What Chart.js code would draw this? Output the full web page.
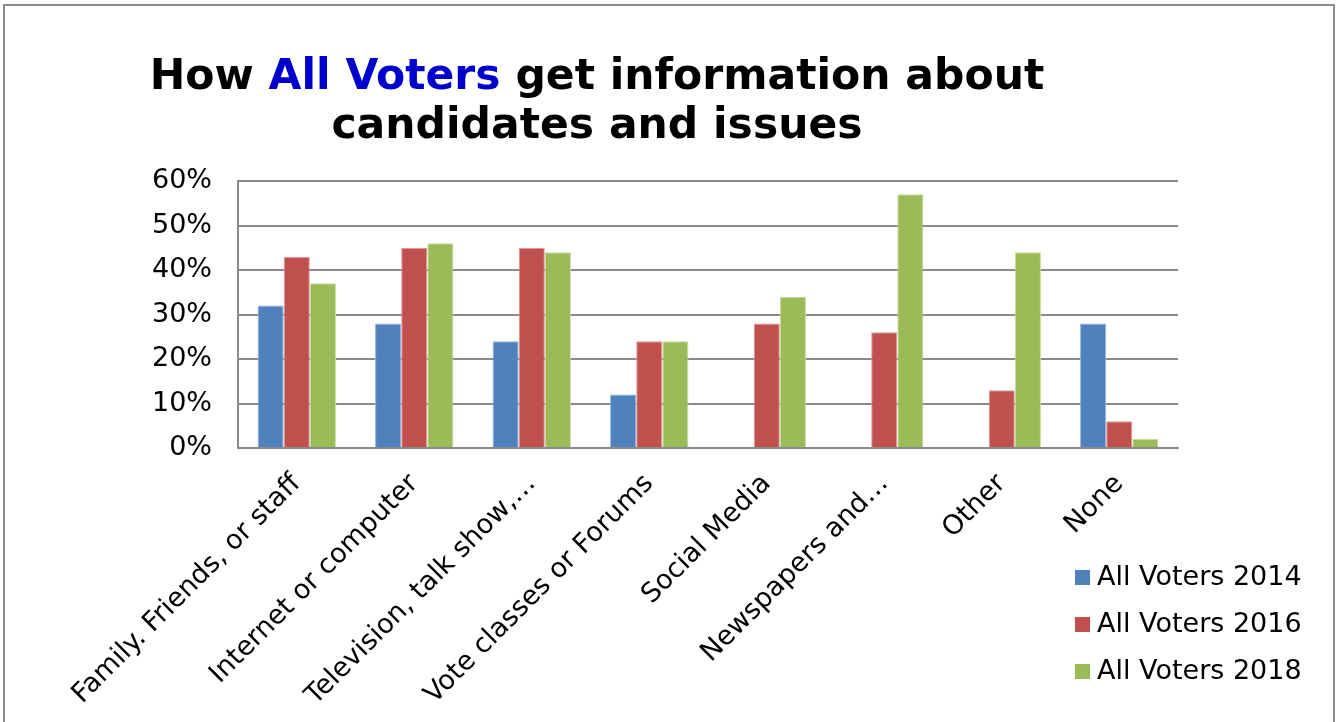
<!DOCTYPE html>
<html>
<head>
<meta charset="utf-8">
<title>How All Voters get information about candidates and issues</title>
<script src="https://cdn.jsdelivr.net/npm/chart.js@4/dist/chart.umd.min.js"></script>
<style>
  html, body { margin: 0; padding: 0; background: #fff; }
  canvas { display: block; }
</style>
</head>
<body>
<canvas id="myChart" width="1343" height="722"></canvas>
<script>
const labels = [
    'Family. Friends, or staff',
    'Internet or computer',
    'Television, talk show,…',
    'Vote classes or Forums',
    'Social Media',
    'Newspapers and…',
    'Other',
    'None',
]

const voters2014 = [32, 28, 24, 12, null, null, null, 28]
const voters2016 = [43, 45, 45, 24, 28, 26, 13, 6]
const voters2018 = [37, 46, 44, 24, 34, 57, 44, 2]

const yTicks = [0, 10, 20, 30, 40, 50, 60]

const FONT = '"DejaVu Sans", Verdana, sans-serif'
const GRID = '#8a8a8a'

// two-line heading, "All Voters" in blue
const titlePlugin = {
    id: 'heading',
    afterDraw(chart) {
        const c = chart.ctx
        const lines = [
            [['How ', '#000'], ['All Voters', '#0000CC'], [' get information about', '#000']],
            [['candidates and issues', '#000']],
        ]
        const baselines = [89, 138]
        const cx = 597
        c.save()
        c.font = 'bold 42.5px ' + FONT
        c.textBaseline = 'alphabetic'
        c.textAlign = 'left'
        lines.forEach((parts, i) => {
            const w = parts.reduce((s, p) => s + c.measureText(p[0]).width, 0)
            let x = cx - w / 2
            parts.forEach(p => {
                c.fillStyle = p[1]
                c.fillText(p[0], x, baselines[i])
                x += c.measureText(p[0]).width
            })
        })
        c.restore()
    }
}

// legend in the lower right corner, below the plot
const legendPlugin = {
    id: 'cornerLegend',
    afterDraw(chart) {
        const c = chart.ctx
        c.save()
        c.font = '27px ' + FONT
        c.textBaseline = 'middle'
        c.textAlign = 'left'
        chart.data.datasets.forEach((ds, i) => {
            const y = 578 + i * 47
            c.fillStyle = ds.backgroundColor
            c.fillRect(1075, y - 8, 15, 15)
            c.fillStyle = '#000'
            c.fillText(ds.label, 1097, y)
        })
        c.restore()
    }
}

// grey frame around the whole figure
const framePlugin = {
    id: 'frame',
    beforeDraw(chart) {
        const c = chart.ctx
        c.save()
        c.strokeStyle = '#8c8c8c'
        c.lineWidth = 2
        c.strokeRect(4, 5, 1330, 760)
        c.restore()
    }
}

const data = {
    labels,
    datasets: [{
        label: 'All Voters 2014',
        data: voters2014,
        backgroundColor: '#4F81BD',
        borderColor: '#8fb0d8',
        borderWidth: 1,
    }, {
        label: 'All Voters 2016',
        data: voters2016,
        backgroundColor: '#C0504D',
        borderColor: '#e09a98',
        borderWidth: 1,
    }, {
        label: 'All Voters 2018',
        data: voters2018,
        backgroundColor: '#9BBB59',
        borderColor: '#c6dc9c',
        borderWidth: 1,
    }]
}

const config = {
    type: 'bar',
    data,
    options: {
        responsive: false,
        animation: false,
        devicePixelRatio: 1,
        categoryPercentage: 0.667,
        barPercentage: 1,
        layout: {
            padding: { top: 181, right: 165, left: 0, bottom: 0 }
        },
        plugins: {
            legend: { display: false },
            title: { display: false },
            tooltip: { enabled: false },
        },
        scales: {
            x: {
                grid: { display: false, drawTicks: false },
                border: { display: true, color: GRID, width: 2 },
                ticks: {
                    color: '#000',
                    font: { family: FONT, size: 27 },
                    minRotation: 45,
                    maxRotation: 45,
                    padding: 20,
                    autoSkip: false,
                },
                afterFit(scale) { scale.height = 274 },
            },
            y: {
                min: 0,
                max: 60,
                afterBuildTicks(scale) {
                    scale.ticks = yTicks.map(v => ({ value: v }))
                },
                grid: { color: GRID, lineWidth: 2, drawTicks: false },
                border: { display: true, color: GRID, width: 2 },
                ticks: {
                    color: '#000',
                    font: { family: FONT, size: 27 },
                    padding: 26,
                    callback: value => value + '%',
                },
                afterFit(scale) { scale.width = 238 },
            }
        }
    },
    plugins: [framePlugin, titlePlugin, legendPlugin]
}

const myChart = new Chart(document.getElementById('myChart').getContext('2d'), config)
</script>
</body>
</html>
